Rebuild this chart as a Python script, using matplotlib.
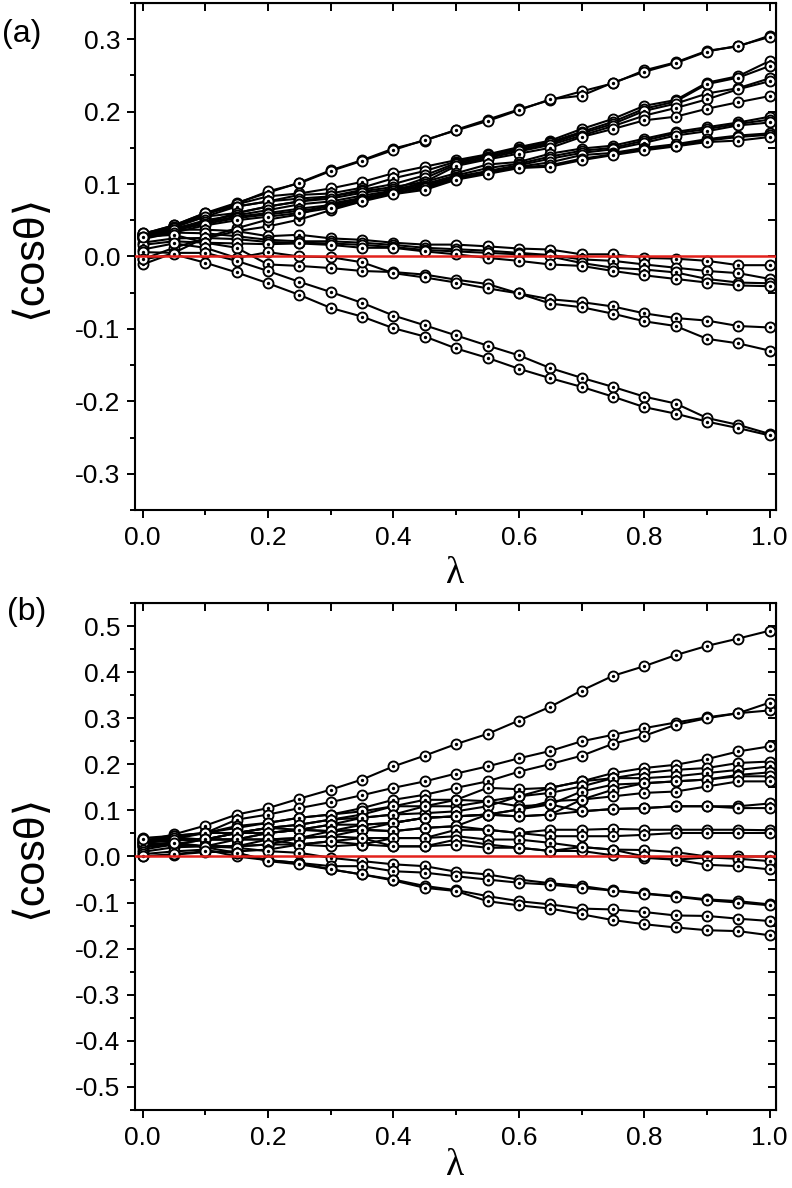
import matplotlib
matplotlib.use("Agg")
import matplotlib.pyplot as plt
from matplotlib.ticker import MultipleLocator

plt.rcParams['font.family'] = ['Liberation Sans', 'DejaVu Sans']
plt.rcParams['axes.unicode_minus'] = False

lam = [0.0, 0.05, 0.1, 0.15, 0.2, 0.25, 0.3, 0.35, 0.4, 0.45, 0.5,
       0.55, 0.6, 0.65, 0.7, 0.75, 0.8, 0.85, 0.9, 0.95, 1.0]

# ---- panel (a) ----
a_top1 = [0.031, 0.043, 0.060, 0.074, 0.088, 0.102, 0.119, 0.133, 0.149, 0.160, 0.175,
          0.189, 0.203, 0.216, 0.228, 0.239, 0.257, 0.268, 0.284, 0.290, 0.305]
a_top2 = [0.029, 0.042, 0.058, 0.073, 0.090, 0.101, 0.118, 0.132, 0.147, 0.161, 0.174,
          0.187, 0.202, 0.217, 0.222, 0.240, 0.255, 0.267, 0.283, 0.291, 0.303]
a_up1 = [0.030, 0.042, 0.058, 0.072, 0.083, 0.087, 0.094, 0.103, 0.115, 0.124, 0.133,
         0.141, 0.151, 0.160, 0.176, 0.190, 0.208, 0.216, 0.240, 0.249, 0.270]
a_up2 = [0.028, 0.040, 0.055, 0.069, 0.076, 0.085, 0.087, 0.095, 0.108, 0.118, 0.131,
         0.140, 0.149, 0.158, 0.172, 0.186, 0.204, 0.214, 0.238, 0.247, 0.263]
a_up3 = [0.025, 0.037, 0.047, 0.060, 0.069, 0.076, 0.083, 0.092, 0.100, 0.112, 0.129,
         0.138, 0.147, 0.156, 0.170, 0.183, 0.201, 0.211, 0.225, 0.2325, 0.246]
a_up4 = [-0.004, 0.012, 0.025, 0.035, 0.0415, 0.051, 0.064, 0.076, 0.093, 0.108, 0.127,
         0.136, 0.145, 0.154, 0.167, 0.180, 0.1945, 0.205, 0.217, 0.231, 0.242]
a_up5 = [-0.011, 0.005, 0.026, 0.039, 0.051, 0.058, 0.073, 0.081, 0.090, 0.103, 0.125,
         0.134, 0.142, 0.150, 0.165, 0.176, 0.188, 0.193, 0.204, 0.213, 0.2215]
a_mid1 = [0.031, 0.043, 0.060, 0.069, 0.076, 0.080, 0.083, 0.090, 0.096, 0.103, 0.115,
          0.127, 0.1305, 0.142, 0.149, 0.153, 0.1626, 0.172, 0.1785, 0.185, 0.193]
a_mid2 = [0.029, 0.041, 0.055, 0.060, 0.069, 0.076, 0.080, 0.088, 0.093, 0.100, 0.112,
          0.122, 0.128, 0.138, 0.146, 0.150, 0.160, 0.170, 0.176, 0.183, 0.189]
a_mid3 = [0.027, 0.038, 0.050, 0.057, 0.064, 0.072, 0.076, 0.084, 0.091, 0.098, 0.110,
          0.118, 0.126, 0.135, 0.143, 0.148, 0.157, 0.167, 0.173, 0.181, 0.185]
a_mid4 = [0.032, 0.039, 0.047, 0.055, 0.060, 0.066, 0.071, 0.080, 0.090, 0.096, 0.108,
          0.116, 0.124, 0.130, 0.140, 0.143, 0.150, 0.155, 0.162, 0.167, 0.170]
a_mid5 = [0.026, 0.036, 0.045, 0.053, 0.058, 0.063, 0.069, 0.078, 0.088, 0.094, 0.107,
          0.1155, 0.123, 0.126, 0.135, 0.141, 0.148, 0.153, 0.160, 0.165, 0.168]
a_mid6 = [0.024, 0.033, 0.043, 0.050, 0.055, 0.060, 0.067, 0.076, 0.086, 0.092, 0.106,
          0.114, 0.122, 0.124, 0.133, 0.140, 0.1466, 0.152, 0.158, 0.160, 0.165]
a_zero1 = [0.033, 0.037, 0.037, 0.035, 0.028, 0.030, 0.025, 0.023, 0.019, 0.0164, 0.0164,
           0.014, 0.011, 0.0096, 0.003, 0.003, -0.002, -0.003, -0.006, -0.012, -0.012]
a_zero2 = [0.027, 0.033, 0.032, 0.028, 0.023, 0.021, 0.021, 0.019, 0.016, 0.012, 0.010,
           0.008, 0.005, 0.002, -0.004, -0.006, -0.011, -0.0155, -0.020, -0.023, -0.031]
a_zero3 = [0.019, 0.025, 0.0256, 0.024, 0.020, 0.019, 0.018, 0.016, 0.013, 0.009, 0.007,
           0.005, 0.003, 0.000, -0.009, -0.0155, -0.018, -0.022, -0.031, -0.036, -0.037]
a_zero4 = [0.016, 0.021, 0.019, 0.018, 0.017, 0.018, 0.016, 0.012, 0.012, 0.007, 0.003,
           -0.002, -0.006, -0.011, -0.013, -0.020, -0.026, -0.031, -0.036, -0.040, -0.041]
a_low1 = [0.027, 0.030, 0.019, 0.012, -0.011, -0.013, -0.016, -0.020, -0.0215, -0.025, -0.032,
          -0.038, -0.051, -0.059, -0.063, -0.069, -0.0785, -0.085, -0.0885, -0.096, -0.098]
a_low2 = [0.0096, 0.018, 0.012, -0.002, 0.006, 0.000, -0.001, -0.008, -0.023, -0.029, -0.036,
          -0.044, -0.051, -0.065, -0.070, -0.079, -0.0895, -0.096, -0.1137, -0.120, -0.130]
a_bot1 = [0.006, 0.005, 0.005, -0.006, -0.020, -0.035, -0.049, -0.064, -0.0815, -0.095, -0.109,
          -0.123, -0.1365, -0.154, -0.1675, -0.180, -0.1935, -0.203, -0.223, -0.2325, -0.245]
a_bot2 = [-0.004, 0.003, -0.0086, -0.022, -0.037, -0.053, -0.071, -0.083, -0.099, -0.1105, -0.127,
          -0.140, -0.155, -0.168, -0.180, -0.1935, -0.208, -0.217, -0.228, -0.237, -0.247]

# ---- panel (b) ----
b_s1 = [0.033, 0.048, 0.067, 0.091, 0.105, 0.1255, 0.145, 0.167, 0.1955, 0.219, 0.244,
        0.266, 0.295, 0.325, 0.360, 0.392, 0.413, 0.437, 0.457, 0.473, 0.490]
b_s2 = [0.032, 0.045, 0.051, 0.080, 0.091, 0.105, 0.118, 0.133, 0.149, 0.163, 0.180,
        0.1955, 0.213, 0.229, 0.250, 0.264, 0.2785, 0.2907, 0.302, 0.311, 0.317]
b_s3 = [0.030, 0.042, 0.051, 0.066, 0.073, 0.084, 0.091, 0.105, 0.123, 0.134, 0.149,
        0.163, 0.184, 0.2006, 0.2186, 0.2446, 0.262, 0.2857, 0.300, 0.311, 0.334]
b_s4 = [0.035, 0.040, 0.037, 0.051, 0.062, 0.069, 0.080, 0.091, 0.109, 0.123, 0.123,
        0.149, 0.146, 0.149, 0.163, 0.181, 0.192, 0.199, 0.2114, 0.228, 0.239]
b_s5 = [0.028, 0.038, 0.051, 0.062, 0.073, 0.084, 0.091, 0.098, 0.109, 0.109, 0.109,
        0.120, 0.1305, 0.149, 0.163, 0.170, 0.181, 0.188, 0.192, 0.203, 0.206]
b_s6 = [0.030, 0.026, 0.037, 0.051, 0.062, 0.069, 0.080, 0.084, 0.091, 0.094, 0.098,
        0.109, 0.1305, 0.138, 0.152, 0.170, 0.170, 0.174, 0.181, 0.188, 0.1955]
b_s7 = [0.038, 0.035, 0.037, 0.037, 0.051, 0.058, 0.069, 0.084, 0.091, 0.109, 0.123,
        0.120, 0.109, 0.113, 0.141, 0.156, 0.159, 0.163, 0.167, 0.177, 0.1825]
b_s8 = [0.025, 0.030, 0.022, 0.037, 0.051, 0.058, 0.069, 0.069, 0.073, 0.084, 0.087,
        0.091, 0.102, 0.120, 0.1234, 0.145, 0.159, 0.163, 0.167, 0.174, 0.174]
b_s9 = [0.022, 0.026, 0.037, 0.037, 0.037, 0.040, 0.055, 0.069, 0.073, 0.084, 0.087,
        0.091, 0.087, 0.091, 0.1234, 0.1305, 0.138, 0.141, 0.152, 0.163, 0.163]
b_s10 = [0.040, 0.045, 0.051, 0.051, 0.062, 0.058, 0.055, 0.058, 0.055, 0.062, 0.066,
         0.091, 0.102, 0.113, 0.098, 0.103, 0.105, 0.109, 0.109, 0.109, 0.115]
b_s11 = [0.020, 0.026, 0.022, 0.022, 0.037, 0.040, 0.044, 0.058, 0.073, 0.084, 0.087,
         0.091, 0.087, 0.091, 0.098, 0.103, 0.105, 0.109, 0.109, 0.105, 0.105]
b_s12 = [0.033, 0.040, 0.037, 0.051, 0.051, 0.058, 0.055, 0.058, 0.055, 0.062, 0.0656,
         0.058, 0.051, 0.058, 0.058, 0.060, 0.058, 0.058, 0.058, 0.058, 0.057]
b_s13 = [0.022, 0.026, 0.022, 0.022, 0.026, 0.040, 0.044, 0.040, 0.040, 0.040, 0.058,
         0.058, 0.051, 0.044, 0.044, 0.044, 0.047, 0.051, 0.051, 0.051, 0.051]
b_s14 = [0.030, 0.035, 0.037, 0.037, 0.037, 0.026, 0.033, 0.026, 0.040, 0.040, 0.044,
         0.0368, 0.0368, 0.0296, 0.0205, 0.015, 0.014, 0.0095, 0.000, 0.000, 0.000]
b_s15 = [0.015, 0.026, 0.022, 0.022, 0.026, 0.026, 0.022, 0.026, 0.022, 0.022, 0.0368,
         0.026, 0.019, 0.012, 0.012, 0.0025, -0.003, -0.007, -0.002, -0.005, -0.010]
b_s16 = [0.000, 0.004, 0.0095, 0.011, 0.015, 0.026, 0.033, 0.040, 0.022, 0.022, 0.026,
         0.019, 0.019, 0.012, 0.0205, 0.015, 0.000, -0.007, -0.018, -0.021, -0.028]
b_low1 = [0.010, 0.020, 0.022, 0.019, 0.0115, 0.008, -0.003, -0.010, -0.017, -0.021, -0.033,
          -0.039, -0.050, -0.058, -0.064, -0.0736, -0.080, -0.086, -0.093, -0.097, -0.104]
b_low2 = [0.005, 0.011, 0.015, 0.000, -0.008, -0.014, -0.021, -0.021, -0.032, -0.035, -0.043,
          -0.050, -0.057, -0.061, -0.068, -0.074, -0.081, -0.087, -0.095, -0.100, -0.106]
b_bot1 = [0.037, 0.030, 0.020, 0.008, -0.008, -0.014, -0.028, -0.039, -0.050, -0.064, -0.073,
          -0.086, -0.097, -0.104, -0.113, -0.115, -0.1205, -0.128, -0.129, -0.135, -0.140]
b_bot2 = [0.000, 0.005, 0.0115, 0.008, -0.010, -0.017, -0.028, -0.039, -0.052, -0.068, -0.075,
          -0.097, -0.106, -0.113, -0.1255, -0.138, -0.147, -0.154, -0.160, -0.162, -0.171]

series_a = [a_top1, a_top2, a_up1, a_up2, a_up3, a_up4, a_up5,
            a_mid1, a_mid2, a_mid3, a_mid4, a_mid5, a_mid6,
            a_zero1, a_zero2, a_zero3, a_zero4, a_low1, a_low2, a_bot1, a_bot2]
series_b = [b_s1, b_s2, b_s3, b_s4, b_s5, b_s6, b_s7, b_s8, b_s9, b_s10, b_s11,
            b_s12, b_s13, b_s14, b_s15, b_s16, b_low1, b_low2, b_bot1, b_bot2]


def draw_panel(ax, curves, ylim, xlabel_y):
    for y in curves:
        ax.plot(lam, y, '-', color='k', lw=1.5, marker='o', ms=7.2,
                mfc='white', mec='k', mew=1.35, zorder=2)
        ax.plot(lam, y, 'o', color='k', ms=1.4, zorder=2)
    ax.axhline(0, color='#e3211c', lw=1.8, zorder=4)

    ax.set_xlim(-0.012, 1.01)
    ax.set_ylim(*ylim)
    ax.xaxis.set_major_locator(MultipleLocator(0.2))
    ax.xaxis.set_minor_locator(MultipleLocator(0.1))
    ax.yaxis.set_major_locator(MultipleLocator(0.1))
    ax.yaxis.set_minor_locator(MultipleLocator(0.05))
    ax.xaxis.set_major_formatter('{x:.1f}')
    ax.yaxis.set_major_formatter('{x:.1f}')
    ax.tick_params(which='major', direction='out', length=5.5, width=1.4,
                   labelsize=19, pad=6)
    ax.tick_params(which='minor', direction='out', length=3.5, width=1.4)
    ax.tick_params(axis='y', which='major', pad=5)
    for sp in ax.spines.values():
        sp.set_linewidth(1.5)

    top = ax.secondary_xaxis('top')
    top.xaxis.set_major_locator(MultipleLocator(0.1))
    top.tick_params(direction='in', length=5.5, width=1.4, labeltop=False)
    right = ax.secondary_yaxis('right')
    right.yaxis.set_major_locator(MultipleLocator(0.05))
    right.tick_params(direction='in', length=5.5, width=1.4, labelright=False)

    ax.set_xlabel('λ', fontsize=27, family='Liberation Serif')
    ax.xaxis.set_label_coords(0.5, xlabel_y)
    ax.xaxis.label.set_va('center')
    ax.set_ylabel('⟨cosθ⟩', fontsize=31)
    ax.yaxis.set_label_coords(-0.164, 0.5)
    ax.yaxis.label.set_va('center')


fig = plt.figure(figsize=(7.92, 11.88), dpi=100)
ax1 = fig.add_axes([0.1705, 0.5707, 0.8093, 0.4268])
ax2 = fig.add_axes([0.1705, 0.0657, 0.8093, 0.4267])

draw_panel(ax1, series_a, (-0.35, 0.35), -0.126)
draw_panel(ax2, series_b, (-0.55, 0.55), -0.11)

fig.text(22 / 792, 1 - 34 / 1188, '(a)', fontsize=23, ha='center', va='center')
fig.text(27 / 792, 1 - 612 / 1188, '(b)', fontsize=23, ha='center', va='center')

fig.savefig('out.png', dpi=100)
